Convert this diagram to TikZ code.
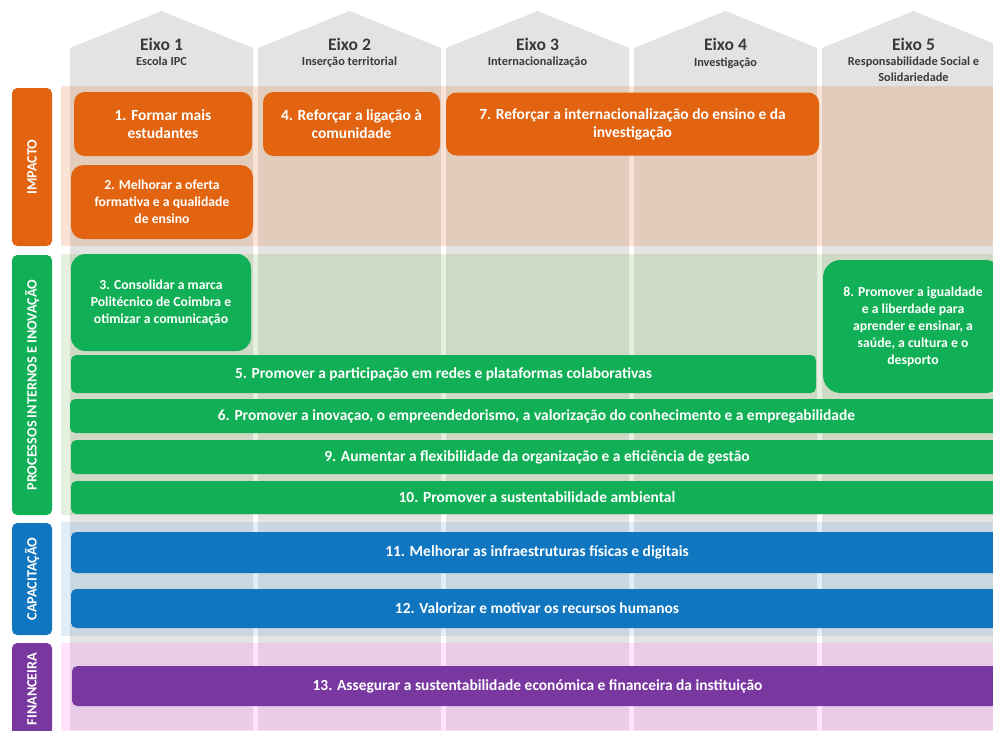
\documentclass[tikz,border=0pt]{standalone}
\usepackage{fontspec}
\setmainfont{Carlito}

\definecolor{impOrange}{HTML}{E26410}
\definecolor{proGreen}{HTML}{12B056}
\definecolor{capBlue}{HTML}{1176C0}
\definecolor{finPurple}{HTML}{7838A0}
\definecolor{eixoGray}{HTML}{E3E3E3}
\definecolor{headText}{HTML}{3A3A3A}
\definecolor{bandGreen}{HTML}{70AD47}
\definecolor{bandBlue}{HTML}{5B9BD5}
\definecolor{bandPink}{HTML}{FF66FF}

\begin{document}
\begin{tikzpicture}[x=0.02cm,y=-0.02cm,
	band/.style={fill=#1,fill opacity=0.18},
	size/.style 2 args={minimum width=#1*0.02cm,minimum height=#2*0.02cm},
	persp/.style={fill=#1,rounded corners=3pt,text=white,inner sep=0pt,rotate=90,
		font=\bfseries\fontsize{8.1}{9}\selectfont},
	obj/.style={fill=#1,text=white,inner sep=0pt,align=center,rounded corners=3pt,
		font=\bfseries\fontsize{8.8}{10.2}\selectfont},
	small/.style={font=\bfseries\fontsize{7.8}{9.7}\selectfont}]
	\useasboundingbox (0,0) rectangle (993,730);
	\clip (0,0) rectangle (993,730);

	% Draw the five axis columns
	\foreach \i/\sub [evaluate=\i as \cx using 161.5+188*(\i-1)] in {1/Escola IPC,2/Inserção territorial,3/Internacionalização,4/Investigação,5/{Responsabilidade Social e\\Solidariedade}} {
		\fill[eixoGray] (\cx-91.5,730) -- (\cx-91.5,48) -- (\cx,11) -- (\cx+91.5,48) -- (\cx+91.5,730) -- cycle;
		\node[text=headText,font=\bfseries\fontsize{10}{12}\selectfont] (eixo\i) at (\cx,44) {Eixo \i};
		\node[text=headText,font=\bfseries\fontsize{7}{9}\selectfont,align=center,anchor=north,inner sep=0pt] (sub\i) at (\cx,57) {\sub};
	}

	% Draw the perspective bands
	\fill[band=impOrange] (61,86) rectangle (1003,246);
	\fill[band=bandGreen] (61,254) rectangle (1003,515);
	\fill[band=bandBlue] (61,522) rectangle (1003,636);
	\fill[band=bandPink] (61,643) rectangle (1003,740);

	% Label the perspectives
	\node[persp=impOrange,size={158}{40}] (pImp) at (32,167) {IMPACTO};
	\node[persp=proGreen,size={260}{40}] (pPro) at (32,385) {PROCESSOS INTERNOS E INOVAÇÃO};
	\node[persp=capBlue,size={112}{40}] (pCap) at (32,579) {CAPACITAÇÃO};
	\node[persp=finPurple,size={92}{40}] (pFin) at (32,689) {FINANCEIRA};

	% Impacto objectives
	\node[obj=impOrange,rounded corners=6pt,size={178}{64}] (o1) at (163,124) {1. Formar mais\\estudantes};
	\node[obj=impOrange,rounded corners=6pt,size={177}{64}] (o4) at (351.5,124) {4. Reforçar a ligação à\\comunidade};
	\node[obj=impOrange,rounded corners=6pt,size={373}{63}] (o7) at (632.5,124) {7. Reforçar a internacionalização do ensino e da\\investigação};
	\node[obj=impOrange,small,rounded corners=7pt,size={182}{74}] (o2) at (162,202) {2. Melhorar a oferta\\formativa e a qualidade\\de ensino};

	% Processos internos objectives
	\node[obj=proGreen,small,rounded corners=8pt,size={180}{97}] (o3) at (161,302.5) {3. Consolidar a marca\\Politécnico de Coimbra e\\otimizar a comunicação};
	\node[obj=proGreen,small,rounded corners=10pt,size={180}{133}] (o8) at (913,326.5) {8. Promover a igualdade\\e a liberdade para\\aprender e ensinar, a\\saúde, a cultura e o\\desporto};
	\node[obj=proGreen,size={745}{38}] (o5) at (443.5,374) {5. Promover a participação em redes e plataformas colaborativas};
	\node[obj=proGreen,size={933}{34}] (o6) at (536.5,416) {6. Promover a inovaçao, o empreendedorismo, a valorização do conhecimento e a empregabilidade};
	\node[obj=proGreen,size={932}{34}] (o9) at (537,457) {9. Aumentar a flexibilidade da organização e a eficiência de gestão};
	\node[obj=proGreen,size={932}{33}] (o10) at (537,497.5) {10. Promover a sustentabilidade ambiental};

	% Capacitacao and financeira objectives
	\node[obj=capBlue,size={932}{41}] (o11) at (537,552.5) {11. Melhorar as infraestruturas físicas e digitais};
	\node[obj=capBlue,size={932}{39}] (o12) at (537,608.5) {12. Valorizar e motivar os recursos humanos};
	\node[obj=finPurple,size={931}{40}] (o13) at (537.5,686) {13. Assegurar a sustentabilidade económica e financeira da instituição};
\end{tikzpicture}
\end{document}
